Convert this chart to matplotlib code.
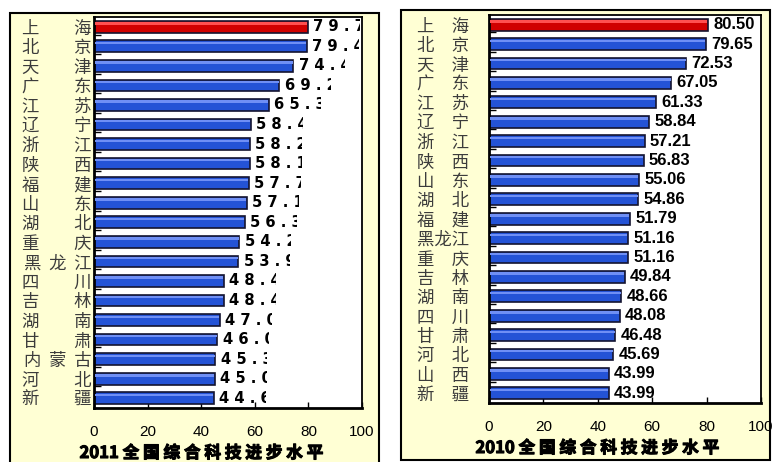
import matplotlib
matplotlib.use("Agg")
import matplotlib.pyplot as plt
import matplotlib.patheffects as pe
from matplotlib.patches import Rectangle
from matplotlib.transforms import Bbox, TransformedBbox

plt.rcParams['font.family'] = ['Noto Sans CJK SC', 'DejaVu Sans']

# 2011 ranking
names_2011 = ["上海", "北京", "天津", "广东", "江苏", "辽宁", "浙江", "陕西", "福建", "山东",
              "湖北", "重庆", "黑龙江", "四川", "吉林", "湖南", "甘肃", "内蒙古", "河北", "新疆"]
vals_2011 = [79.7, 79.4, 74.4, 69.2, 65.3, 58.4, 58.2, 58.1, 57.7, 57.1,
             56.3, 54.2, 53.9, 48.4, 48.4, 47.0, 46.0, 45.3, 45.0, 44.6]

# 2010 ranking
names_2010 = ["上海", "北京", "天津", "广东", "江苏", "辽宁", "浙江", "陕西", "山东", "湖北",
              "福建", "黑龙江", "重庆", "吉林", "湖南", "四川", "甘肃", "河北", "山西", "新疆"]
vals_2010 = [80.50, 79.65, 72.53, 67.05, 61.33, 58.84, 57.21, 56.83, 55.06, 54.86,
             51.79, 51.16, 51.16, 49.84, 48.66, 48.08, 46.48, 45.69, 43.99, 43.99]

xticks = [0, 20, 40, 60, 80, 100]

W, H = 773, 462
PANEL = "#ffffd4"
RED = "#d00000"
BLUE = "#2453d6"
EDGE = "#141430"


def px_rect(x0, y0, x1, y1):
    # pixel box (top-left origin) -> figure fraction [left, bottom, width, height]
    return [x0 / W, 1 - y1 / H, (x1 - x0) / W, (y1 - y0) / H]


def draw_panel(ax, names, vals, labels, value_fmt, value_font, clip_w, name_pad, tick_pad):
    n = len(vals)
    pos = list(range(n))
    colors = [RED] + [BLUE] * (n - 1)
    ax.set_facecolor("white")
    ax.barh(pos, vals, height=0.6, color=colors, edgecolor=EDGE, linewidth=1.2, zorder=2)
    # light sheen along the top of each bar
    ax.barh([p - 0.17 for p in pos], [v - 0.5 for v in vals], height=0.12, left=0.25,
            color=["#ff5050"] + ["#6f8ff5"] * (n - 1), linewidth=0, zorder=3)

    ax.set_xlim(0, 100)
    ax.set_ylim(n - 0.5, -0.5)
    ax.set_xticks(xticks)
    ax.set_xticklabels([str(t) for t in xticks], family="Liberation Sans", fontsize=11)
    ax.set_yticks(pos)
    ax.set_yticklabels(labels, fontsize=12.5, color="#3c3c3c")
    ax.set_yticks([p + 0.4 for p in pos[:-1]], minor=True)
    ax.tick_params(axis="y", which="major", length=0, pad=name_pad)
    ax.tick_params(axis="y", which="minor", direction="in", length=5, width=1)
    ax.tick_params(axis="x", direction="in", length=4, width=1, pad=tick_pad)

    for side in ["left", "bottom"]:
        ax.spines[side].set_linewidth(2)
    for side in ["top", "right"]:
        ax.spines[side].set_linewidth(1.3)

    for i, v in enumerate(vals):
        t = ax.annotate(value_fmt(v), (v, i), xytext=(3.8, 0), textcoords="offset points",
                        va="center", ha="left", fontweight="bold", zorder=4,
                        annotation_clip=False, **value_font)
        if clip_w:
            # value boxes cut off at a fixed width
            t.set_clip_on(True)
            t.set_clip_box(TransformedBbox(Bbox([[v, i - 0.5], [v + clip_w, i + 0.5]]),
                                           ax.transData))


fig = plt.figure(figsize=(W / 100, H / 100), dpi=100)

# yellow framed backgrounds
fig.patches.append(Rectangle((10 / W, -0.05), 369 / W, 1.05 - 13 / H, transform=fig.transFigure,
                             facecolor=PANEL, edgecolor="black", linewidth=1.5, zorder=-5))
fig.patches.append(Rectangle((401 / W, 1 - 460 / H), 369 / W, 450 / H, transform=fig.transFigure,
                             facecolor=PANEL, edgecolor="black", linewidth=1.5, zorder=-5))

ax1 = fig.add_axes(px_rect(94, 17, 362, 408))
labels_2011 = [nm[0] + "\u3000\u3000" + nm[1] if len(nm) == 2 else "  ".join(nm) for nm in names_2011]
draw_panel(ax1, names_2011, vals_2011, labels_2011,
           lambda v: " ".join(f"{v:.1f}"),
           {"family": "DejaVu Sans", "fontsize": 10.6},
           19.4, 1.5, 12)

ax2 = fig.add_axes(px_rect(489, 15, 761, 403))
labels_2010 = [nm[0] + "\u3000" + nm[1] if len(nm) == 2 else nm for nm in names_2010]
draw_panel(ax2, names_2010, vals_2010, labels_2010,
           lambda v: f"{v:.2f}",
           {"family": "Liberation Sans", "fontsize": 12},
           None, 14, 12.5)

heavy = [pe.withStroke(linewidth=0.8, foreground="black")]
fig.text(201 / W, 1 - 453 / H, "2011 全 国 综 合 科 技 进 步 水 平", ha="center", va="center",
         fontsize=12, fontweight="bold", path_effects=heavy)
fig.text(597 / W, 1 - 448 / H, "2010 全 国 综 合 科 技 进 步 水 平", ha="center", va="center",
         fontsize=12, fontweight="bold", path_effects=heavy)

fig.savefig("out.png", dpi=100)
